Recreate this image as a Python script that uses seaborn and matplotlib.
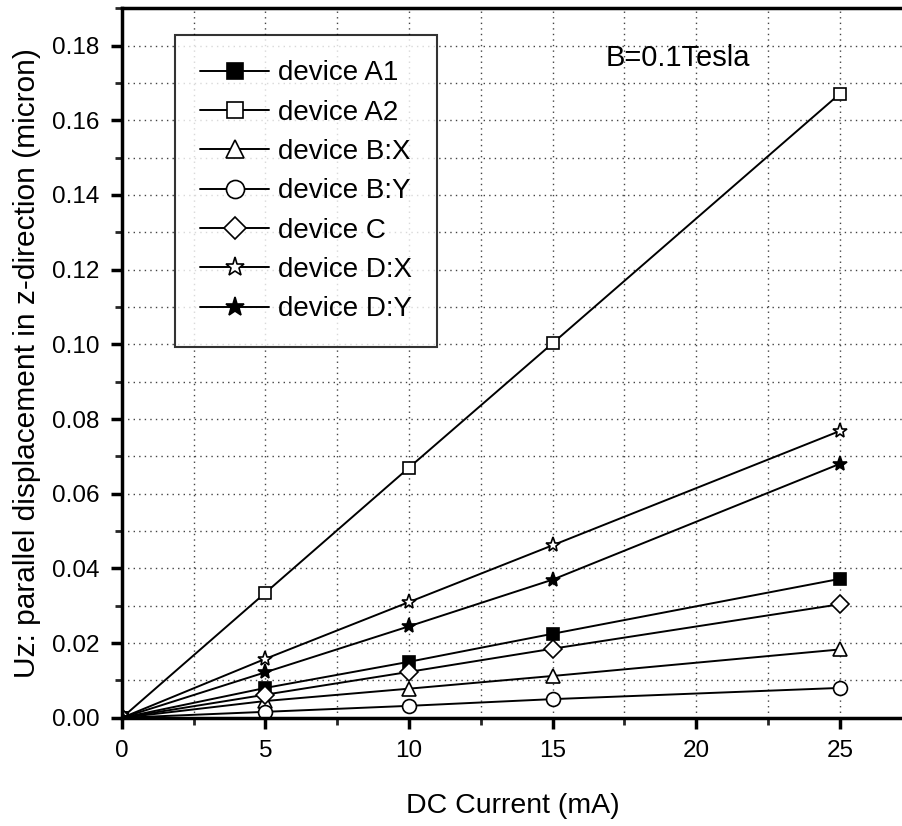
import matplotlib
matplotlib.use("Agg")
import matplotlib.pyplot as plt
import seaborn as sns
import pandas as pd
from matplotlib.ticker import MultipleLocator

sns.set_theme(style="white")
plt.rcParams['font.family'] = ['Liberation Sans', 'DejaVu Sans']
plt.rcParams['text.color'] = 'black'
plt.rcParams['axes.labelcolor'] = 'black'

current = [0, 5, 10, 15, 25]
series_names = ["device A1", "device A2", "device B:X", "device B:Y",
                "device C", "device D:X", "device D:Y"]
a1 = [0.0, 0.0080, 0.0150, 0.0225, 0.0372]
a2 = [0.0, 0.0335, 0.0670, 0.1003, 0.1671]
bx = [0.0, 0.0045, 0.0078, 0.0112, 0.0183]
by = [0.0, 0.0016, 0.0032, 0.0050, 0.0080]
c = [0.0, 0.0062, 0.0123, 0.0185, 0.0304]
dx = [0.0, 0.0158, 0.0310, 0.0462, 0.0768]
dy = [0.0, 0.0122, 0.0245, 0.0370, 0.0680]
values = [a1, a2, bx, by, c, dx, dy]
markers = ["s", "s", "^", "o", "D", "*", "*"]
filled = [True, False, False, False, False, False, True]
msizes = [9, 9, 10, 10, 9, 11, 11]

fig = plt.figure(figsize=(9.03, 8.26), dpi=100)
ax = fig.add_axes([0.135, 0.131, 0.865, 0.859])

for name, vals, m, f, ms in zip(series_names, values, markers, filled, msizes):
    df = pd.DataFrame({"x": current, "y": vals})
    sns.lineplot(data=df, x="x", y="y", ax=ax, color="black", lw=1.4,
                 marker=m, markersize=ms, markeredgecolor="black",
                 markeredgewidth=1.2,
                 markerfacecolor=("black" if f else "white"), label=name)

ax.set_xlim(0, 27.2)
ax.set_ylim(0, 0.19)
ax.xaxis.set_major_locator(MultipleLocator(5))
ax.xaxis.set_minor_locator(MultipleLocator(2.5))
ax.yaxis.set_major_locator(MultipleLocator(0.02))
ax.yaxis.set_minor_locator(MultipleLocator(0.01))
ax.yaxis.set_major_formatter(matplotlib.ticker.FormatStrFormatter('%.2f'))

ax.grid(True, which="both", linestyle=(0, (1, 3)), color="#444444", lw=1.0)
ax.set_axisbelow(True)

for side in ["left", "bottom", "top"]:
    ax.spines[side].set_visible(True)
    ax.spines[side].set_color("black")
    ax.spines[side].set_linewidth(2.5)
ax.spines["right"].set_visible(False)

ax.tick_params(which="major", direction="out", length=8, width=2.5,
               labelsize=17.5, colors="black", left=True, bottom=True, pad=8)
ax.tick_params(which="minor", direction="out", length=5, width=2,
               left=True, bottom=True)

ax.set_xlabel("DC Current (mA)", fontsize=20.5, labelpad=22)
ax.set_ylabel("Uz: parallel displacement in z-direction (micron)", fontsize=21.5,
              labelpad=8)

ax.text(19.35, 0.1768, "B=0.1Tesla", fontsize=21, ha="center", va="center")

leg = ax.legend(loc="upper left", bbox_to_anchor=(0.068, 0.962), fontsize=20,
                frameon=True, fancybox=False, edgecolor="black",
                handlelength=2.5, handletextpad=0.3, labelspacing=0.48,
                borderpad=0.9, borderaxespad=0, markerscale=1.3)
leg.get_frame().set_linewidth(1.5)

fig.savefig("out.png", dpi=100)
